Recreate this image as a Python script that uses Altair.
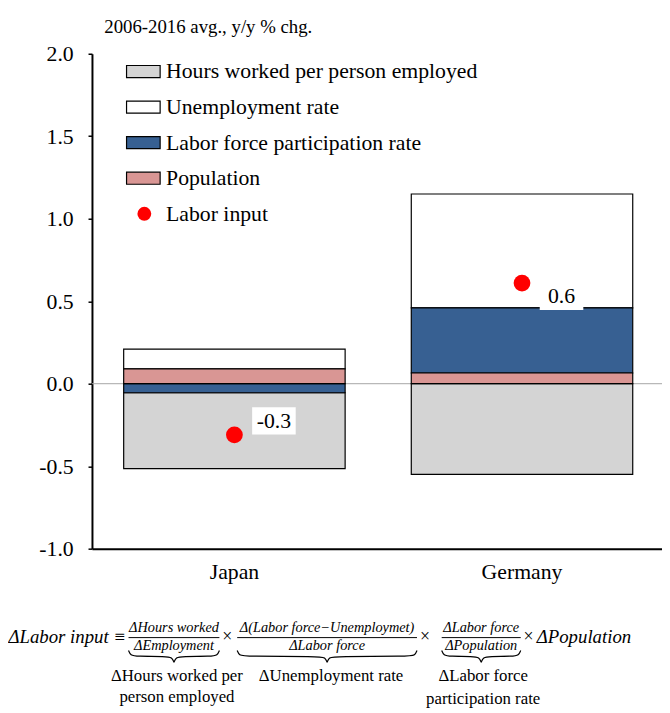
import altair as alt
import pandas as pd

# ---------------- data ----------------
countries = ["Japan", "Germany"]
components = [
    "Hours worked per person employed",
    "Unemployment rate",
    "Labor force participation rate",
    "Population",
]
hours_worked = [-0.46, -0.55]
unemployment = [0.12, 0.69]
participation = [-0.055, 0.395]
population = [0.09, 0.065]
labor_input = [-0.31, 0.61]
labor_labels = ["-0.3", "0.6"]

# stacking order: population nearest zero, then participation, unemployment, hours
stack_rank = {"Population": 0, "Labor force participation rate": 1,
              "Unemployment rate": 2, "Hours worked per person employed": 3}
series = {
    "Hours worked per person employed": hours_worked,
    "Unemployment rate": unemployment,
    "Labor force participation rate": participation,
    "Population": population,
}
rows = []
for comp in components:
    for c, v in zip(countries, series[comp]):
        rows.append({"country": c, "component": comp, "value": v, "ord": stack_rank[comp]})
bar_df = pd.DataFrame(rows)

dot_df = pd.DataFrame({"country": countries, "value": labor_input,
                       "label": labor_labels, "name": ["Labor input"] * 2})

# formula annotation (text below the chart)
formula_italic = ["ΔLabor input ≡", "ΔPopulation",
                  "ΔHours worked", "ΔEmployment",
                  "Δ(Labor force−Unemploymet)", "ΔLabor force",
                  "ΔLabor force", "ΔPopulation"]
formula_plain = ["×", "×", "×",
                 "ΔHours worked per", "person employed",
                 "ΔUnemployment rate",
                 "ΔLabor force", "participation rate"]

FONT = "Liberation Serif"
colors = ["#d4d4d4", "#ffffff", "#376092", "#d99694"]

W, H = 577, 501
P_INNER, P_OUTER, ALIGN = 0.23, 0.106, 0.52
STEP = W / (2 - P_INNER + 2 * P_OUTER)
BAND = STEP * (1 - P_INNER)

# layout of the formula (pixels relative to plot origin)
ital_pos = [(-25, 590, 19), (498, 590, 19),
            (83, 581, 14.5), (83, 600, 14.5),
            (238, 581, 14.5), (238, 600, 14.5),
            (394, 581, 14.5), (394, 600, 14.5)]
plain_pos = [(137, 590, 18), (337, 590, 18), (442, 590, 18),
             (86, 630, 17), (86, 651, 17),
             (242, 630, 17),
             (396, 630, 17), (396, 653, 17)]
ital_df = pd.DataFrame([{"t": t, "px": p[0], "py": p[1], "fs": p[2]} for t, p in zip(formula_italic, ital_pos)])
plain_df = pd.DataFrame([{"t": t, "px": p[0], "py": p[1], "fs": p[2]} for t, p in zip(formula_plain, plain_pos)])

spans = [(37, 129), (147, 329), (354, 434)]
frac_df = pd.DataFrame([{"x1": a, "x2": b, "py": 591} for a, b in spans])
brace_rows = []
y0 = 604
for i, (a, b) in enumerate(spans):
    m = (a + b) / 2
    pts = [(a, y0), (a + 2, y0 + 5), (a + 8, y0 + 6), (m - 8, y0 + 6), (m - 2, y0 + 7), (m, y0 + 12),
           (m, y0 + 12), (m + 2, y0 + 7), (m + 8, y0 + 6), (b - 8, y0 + 6), (b - 2, y0 + 5), (b, y0)]
    for k, (px, py) in enumerate(pts):
        brace_rows.append({"brace": i, "ord": k, "px": px, "py": py})
brace_df = pd.DataFrame(brace_rows)

# ---------------- chart ----------------
x_scale = alt.Scale(paddingInner=P_INNER, paddingOuter=P_OUTER, align=ALIGN)
x_enc = alt.X("country:N", sort=countries, scale=x_scale,
              axis=alt.Axis(title=None, labelAngle=0, labelFont=FONT, labelFontSize=22,
                            labelColor="black", domainColor="black", domainWidth=2,
                            ticks=False, labelPadding=13))
y_scale = alt.Scale(domain=[-1, 2], nice=False, zero=False)
y_axis = alt.Axis(values=[-1, -0.5, 0, 0.5, 1, 1.5, 2],
                  labelExpr="datum.value < 0 ? '-' + format(-datum.value, '.1f') : format(datum.value, '.1f')",
                  title="2006-2016 avg., y/y % chg.", titleAngle=0, titleAlign="left",
                  titleBaseline="middle", titleX=12, titleY=-27, titleFont=FONT,
                  titleFontSize=19, titleFontWeight="normal", titleColor="black",
                  labelFont=FONT, labelFontSize=22, labelColor="black",
                  tickColor="black", tickSize=4, tickWidth=1.5,
                  domainColor="black", domainWidth=2, grid=False, labelPadding=15)

zero_line = alt.Chart(pd.DataFrame({"z": [0]})).mark_rule(color="#a6a6a6", strokeWidth=1).encode(
    y=alt.Y("z:Q", scale=y_scale, axis=y_axis))

bars = alt.Chart(bar_df).mark_bar(stroke="black", strokeWidth=1.2).encode(
    x=x_enc,
    y=alt.Y("value:Q", stack="zero", scale=y_scale, axis=y_axis),
    fill=alt.Fill("component:N", scale=alt.Scale(domain=components, range=colors),
                  legend=alt.Legend(orient="none", legendX=34, legendY=0, title=None,
                                    symbolType="M-1,-0.36H1V0.36H-1Z", symbolSize=1156,
                                    symbolStrokeColor="black", symbolStrokeWidth=1.2,
                                    labelFont=FONT, labelFontSize=22, labelColor="black",
                                    labelOffset=5, rowPadding=7, padding=0, labelLimit=400)),
    order=alt.Order("ord:Q"),
)

dots = alt.Chart(dot_df).mark_point(filled=True, color="red", size=289, opacity=1).encode(
    x=alt.X("country:N", sort=countries),
    y=alt.Y("value:Q", scale=y_scale),
    shape=alt.Shape("name:N", scale=alt.Scale(domain=["Labor input"], range=["circle"]),
                    legend=alt.Legend(orient="none", legendX=42, legendY=151, title=None,
                                      symbolSize=196, symbolFillColor="red", symbolStrokeWidth=0,
                                      labelFont=FONT, labelFontSize=22, labelColor="black",
                                      labelOffset=11, padding=0)),
)

label_base = alt.Chart(dot_df).transform_calculate(
    ly="datum.value < 0 ? datum.value + 0.085 : datum.value - 0.08")

boxes = label_base.mark_point(shape="M-1.6,-1H1.6V1H-1.6Z", filled=True, color="white",
                              size=760, opacity=1, strokeWidth=0).encode(
    x=alt.X("country:N", sort=countries),
    y=alt.Y("ly:Q", scale=y_scale),
    xOffset=alt.value(BAND / 2 + 40),
)
labels = label_base.mark_text(font=FONT, fontSize=22, color="black", dx=40,
                              baseline="middle").encode(
    x=alt.X("country:N", sort=countries),
    y=alt.Y("ly:Q", scale=y_scale),
    text="label:N",
)

ital = alt.Chart(ital_df).mark_text(font=FONT, fontStyle="italic", color="black",
                                    baseline="middle", align="center").encode(
    x=alt.X("px:Q", scale=None), y=alt.Y("py:Q", scale=None),
    size=alt.Size("fs:Q", scale=None, legend=None), text="t:N")
plain = alt.Chart(plain_df).mark_text(font=FONT, color="black",
                                      baseline="middle", align="center").encode(
    x=alt.X("px:Q", scale=None), y=alt.Y("py:Q", scale=None),
    size=alt.Size("fs:Q", scale=None, legend=None), text="t:N")
fracs = alt.Chart(frac_df).mark_rule(color="black", strokeWidth=1).encode(
    x=alt.X("x1:Q", scale=None), x2="x2:Q",
    y=alt.Y("py:Q", scale=None))
braces = alt.Chart(brace_df).mark_line(color="black", strokeWidth=1.2, interpolate="basis").encode(
    x=alt.X("px:Q", scale=None), y=alt.Y("py:Q", scale=None),
    detail="brace:N", order="ord:Q")

chart = alt.layer(zero_line, bars, dots, boxes, labels, ital, plain, fracs, braces).properties(
    width=W, height=H,
    autosize=alt.AutoSizeParams(type="none"),
    padding={"left": 85, "top": 42, "right": 0, "bottom": 160},
    background="white",
).configure_view(stroke=None)

chart.save("out.html", embed_options={"renderer": "svg", "actions": False})
